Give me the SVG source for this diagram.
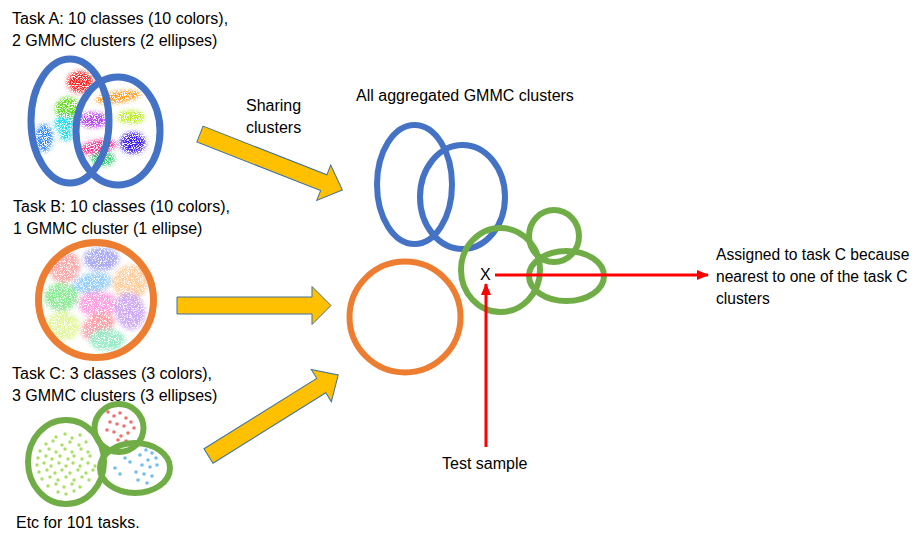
<svg xmlns="http://www.w3.org/2000/svg" width="919" height="534" viewBox="0 0 919 534">
  <style>
    .t { font-family: "Liberation Sans", Arial, sans-serif; font-size: 16px; fill: #000; }
    .s { font-size: 15.6px; }
    .blue { fill: none; stroke: #4472C4; }
    .orange { fill: none; stroke: #ED7D31; }
    .green { fill: none; stroke: #70AD47; }
    .fat { fill: #FFC000; stroke: #41719C; stroke-width: 1; }
    .red { stroke: #FF0000; stroke-width: 3; fill: none; }
    .lime circle { fill: #9BD94A; opacity: 0.85; }
    .rdot circle { fill: #E8504A; opacity: 0.8; }
    .bdot circle { fill: #4FAEE8; opacity: 0.8; }
  </style>
  <defs>
    <!-- speckled point-cloud texture for the scatter plots -->
    <filter id="grain" filterUnits="userSpaceOnUse" x="0" y="40" width="200" height="330" color-interpolation-filters="sRGB">
      <feGaussianBlur in="SourceGraphic" stdDeviation="2" result="soft"/>
      <feTurbulence type="fractalNoise" baseFrequency="1.1" numOctaves="1" seed="7" result="noise"/>
      <feColorMatrix in="noise" type="matrix" values="0 0 0 0 0  0 0 0 0 0  0 0 0 0 0  9 0 0 0 -3.8" result="dots"/>
      <feComposite in="soft" in2="dots" operator="in"/>
    </filter>
    <filter id="grainDense" filterUnits="userSpaceOnUse" x="0" y="200" width="200" height="200" color-interpolation-filters="sRGB">
      <feGaussianBlur in="SourceGraphic" stdDeviation="2.2" result="soft"/>
      <feTurbulence type="fractalNoise" baseFrequency="1.3" numOctaves="1" seed="11" result="noise"/>
      <feColorMatrix in="noise" type="matrix" values="0 0 0 0 0  0 0 0 0 0  0 0 0 0 0  8 0 0 0 -2.9" result="dots"/>
      <feComposite in="soft" in2="dots" operator="in"/>
    </filter>
    <clipPath id="clipB"><circle cx="96" cy="300" r="56"/></clipPath>
    <marker id="redHead" viewBox="0 0 12 10" refX="11" refY="5" markerWidth="12" markerHeight="10" markerUnits="userSpaceOnUse" orient="auto">
      <path d="M0,0 L12,5 L0,10 Z" fill="#FF0000"/>
    </marker>
  </defs>

  <rect width="919" height="534" fill="#FFFFFF"/>

  <!-- Task A: ten classes, two clusters -->
  <g id="taskA">
    <text class="t" x="12" y="24">Task A: 10 classes (10 colors),</text>
    <text class="t" x="12" y="46">2 GMMC clusters (2 ellipses)</text>
    <g filter="url(#grain)">
      <ellipse cx="80" cy="82" rx="13" ry="11" fill="#FF2222"/>
      <ellipse cx="118" cy="97" rx="23" ry="6" fill="#FF9A1A" transform="rotate(-8 118 97)"/>
      <ellipse cx="68" cy="109" rx="13" ry="12" fill="#66DD22"/>
      <ellipse cx="64" cy="124" rx="10" ry="9" fill="#22DDEE"/>
      <ellipse cx="66" cy="136" rx="7" ry="5" fill="#22DDEE"/>
      <ellipse cx="93" cy="120" rx="15" ry="8" fill="#BB44EE"/>
      <ellipse cx="131" cy="117" rx="14" ry="7" fill="#BBEE22"/>
      <ellipse cx="44" cy="138" rx="9" ry="14" fill="#3388FF"/>
      <ellipse cx="98" cy="147" rx="19" ry="7" fill="#FF3399" transform="rotate(-10 98 147)"/>
      <ellipse cx="133" cy="143" rx="13" ry="11" fill="#4422EE"/>
      <ellipse cx="103" cy="159" rx="12" ry="7" fill="#22CC66"/>
    </g>
    <ellipse class="blue" cx="70" cy="121" rx="39" ry="62" stroke-width="7"/>
    <ellipse class="blue" cx="118" cy="131" rx="42" ry="54" stroke-width="7"/>
  </g>

  <!-- Task B: ten classes, one cluster -->
  <g id="taskB">
    <text class="t" x="13" y="212">Task B: 10 classes (10 colors),</text>
    <text class="t" x="13" y="234">1 GMMC cluster (1 ellipse)</text>
    <g clip-path="url(#clipB)">
      <g filter="url(#grainDense)" opacity="0.55">
        <ellipse cx="64" cy="266" rx="16" ry="17" fill="#FF6666"/>
        <ellipse cx="101" cy="259" rx="18" ry="12" fill="#6666EE"/>
        <ellipse cx="131" cy="282" rx="19" ry="17" fill="#FFAA55" transform="rotate(-20 131 282)"/>
        <ellipse cx="92" cy="283" rx="20" ry="10" fill="#44AAFF" transform="rotate(-10 92 283)"/>
        <ellipse cx="61" cy="297" rx="17" ry="14" fill="#33DD44"/>
        <ellipse cx="98" cy="304" rx="20" ry="13" fill="#FF55CC"/>
        <ellipse cx="130" cy="311" rx="15" ry="19" fill="#AA66EE" transform="rotate(-15 130 311)"/>
        <ellipse cx="62" cy="326" rx="18" ry="15" fill="#CCEE55"/>
        <ellipse cx="98" cy="326" rx="18" ry="12" fill="#FF5566" transform="rotate(-35 98 326)"/>
        <ellipse cx="107" cy="340" rx="18" ry="11" fill="#44DD99"/>
      </g>
    </g>
    <circle class="orange" cx="96" cy="300" r="57.5" stroke-width="7"/>
  </g>

  <!-- Task C: three classes, three clusters -->
  <g id="taskC">
    <text class="t" x="12" y="379">Task C: 3 classes (3 colors),</text>
    <text class="t" x="12" y="401">3 GMMC clusters (3 ellipses)</text>
    <g class="lime">
      <circle cx="56" cy="437" r="1.7"/><circle cx="65" cy="434" r="1.7"/><circle cx="72" cy="438" r="1.7"/><circle cx="80" cy="435" r="1.7"/>
      <circle cx="46" cy="444" r="1.7"/><circle cx="53" cy="441" r="1.7"/><circle cx="62" cy="445" r="1.7"/><circle cx="70" cy="442" r="1.7"/><circle cx="79" cy="445" r="1.7"/><circle cx="86" cy="442" r="1.7"/>
      <circle cx="40" cy="451" r="1.7"/><circle cx="49" cy="449" r="1.7"/><circle cx="56" cy="452" r="1.7"/><circle cx="65" cy="449" r="1.7"/><circle cx="72" cy="452" r="1.7"/><circle cx="81" cy="449" r="1.7"/><circle cx="88" cy="452" r="1.7"/>
      <circle cx="38" cy="458" r="1.7"/><circle cx="46" cy="456" r="1.7"/><circle cx="52" cy="459" r="1.7"/><circle cx="60" cy="456" r="1.7"/><circle cx="68" cy="459" r="1.7"/><circle cx="74" cy="456" r="1.7"/><circle cx="82" cy="459" r="1.7"/><circle cx="90" cy="456" r="1.7"/>
      <circle cx="37" cy="465" r="1.7"/><circle cx="44" cy="463" r="1.7"/><circle cx="51" cy="466" r="1.7"/><circle cx="59" cy="463" r="1.7"/><circle cx="66" cy="466" r="1.7"/><circle cx="73" cy="463" r="1.7"/><circle cx="80" cy="466" r="1.7"/><circle cx="88" cy="463" r="1.7"/><circle cx="95" cy="466" r="1.7"/>
      <circle cx="39" cy="472" r="1.7"/><circle cx="47" cy="470" r="1.7"/><circle cx="55" cy="473" r="1.7"/><circle cx="62" cy="470" r="1.7"/><circle cx="70" cy="473" r="1.7"/><circle cx="78" cy="470" r="1.7"/><circle cx="86" cy="473" r="1.7"/><circle cx="93" cy="470" r="1.7"/>
      <circle cx="42" cy="479" r="1.7"/><circle cx="50" cy="477" r="1.7"/><circle cx="58" cy="480" r="1.7"/><circle cx="66" cy="477" r="1.7"/><circle cx="74" cy="480" r="1.7"/><circle cx="82" cy="477" r="1.7"/><circle cx="89" cy="480" r="1.7"/>
      <circle cx="48" cy="486" r="1.7"/><circle cx="56" cy="484" r="1.7"/><circle cx="64" cy="487" r="1.7"/><circle cx="72" cy="484" r="1.7"/><circle cx="80" cy="487" r="1.7"/>
      <circle cx="58" cy="492" r="1.7"/><circle cx="66" cy="494" r="1.7"/><circle cx="74" cy="491" r="1.7"/>
    </g>
    <g class="rdot">
      <circle cx="108" cy="412" r="1.8"/><circle cx="114" cy="416" r="1.8"/><circle cx="120" cy="413" r="1.8"/><circle cx="126" cy="418" r="1.8"/>
      <circle cx="110" cy="422" r="1.8"/><circle cx="117" cy="424" r="1.8"/><circle cx="124" cy="426" r="1.8"/><circle cx="131" cy="422" r="1.8"/>
      <circle cx="107" cy="430" r="1.8"/><circle cx="114" cy="432" r="1.8"/><circle cx="121" cy="436" r="1.8"/><circle cx="128" cy="433" r="1.8"/><circle cx="134" cy="428" r="1.8"/>
      <circle cx="118" cy="440" r="1.8"/><circle cx="126" cy="441" r="1.8"/>
    </g>
    <g class="bdot">
      <circle cx="115" cy="468" r="1.8"/><circle cx="120" cy="474" r="1.8"/><circle cx="140" cy="455" r="1.8"/><circle cx="146" cy="450" r="1.8"/>
      <circle cx="152" cy="453" r="1.8"/><circle cx="156" cy="458" r="1.8"/><circle cx="148" cy="460" r="1.8"/><circle cx="142" cy="465" r="1.8"/>
      <circle cx="150" cy="467" r="1.8"/><circle cx="157" cy="465" r="1.8"/><circle cx="136" cy="472" r="1.8"/><circle cx="144" cy="474" r="1.8"/>
      <circle cx="152" cy="476" r="1.8"/><circle cx="138" cy="480" r="1.8"/><circle cx="147" cy="483" r="1.8"/><circle cx="130" cy="462" r="1.8"/>
      <circle cx="160" cy="452" r="1.8"/><circle cx="125" cy="458" r="1.8"/>
    </g>
    <ellipse class="green" cx="66" cy="462" rx="38" ry="42" stroke-width="6"/>
    <ellipse class="green" cx="119" cy="428" rx="24.5" ry="24" stroke-width="6"/>
    <ellipse class="green" cx="135" cy="468" rx="35" ry="25" stroke-width="6"/>
    <text class="t" x="16" y="528">Etc for 101 tasks.</text>
  </g>

  <!-- Aggregated cluster set -->
  <g id="aggregated">
    <text class="t" x="356" y="101">All aggregated GMMC clusters</text>
    <g id="agg-taskA">
      <ellipse class="blue" cx="414.5" cy="184.5" rx="37.5" ry="59.5" stroke-width="6"/>
      <ellipse class="blue" cx="462.5" cy="197" rx="42.5" ry="52" stroke-width="6"/>
    </g>
    <g id="agg-taskB">
      <circle class="orange" cx="405" cy="317" r="55.5" stroke-width="6"/>
    </g>
    <g id="agg-taskC">
      <ellipse class="green" cx="500.5" cy="270" rx="39.5" ry="42" stroke-width="6"/>
      <ellipse class="green" cx="554" cy="236" rx="25" ry="26" stroke-width="6"/>
      <ellipse class="green" cx="566.5" cy="276" rx="37.5" ry="25" stroke-width="6"/>
    </g>
  </g>

  <!-- Test sample marker -->
  <g id="sample">
    <text class="t" x="480" y="280">X</text>
  </g>
  <g id="test-label">
    <text class="t" x="442" y="469">Test sample</text>
  </g>
  <g id="result-label">
    <text class="t s" x="716" y="260">Assigned to task C because</text>
    <text class="t s" x="716" y="282">nearest to one of the task C</text>
    <text class="t s" x="716" y="304">clusters</text>
  </g>
  <g id="sharing-label">
    <text class="t" x="246" y="111">Sharing</text>
    <text class="t" x="246" y="133">clusters</text>
  </g>

  <!-- Connectors -->
  <g id="connectors">
    <polygon class="fat" transform="translate(200 134) rotate(21.5)" points="0,-8.5 133,-8.5 133,-19 153,0 133,19 133,8.5 0,8.5"/>
    <polygon class="fat" transform="translate(177 305.5)" points="0,-8.5 135,-8.5 135,-19 154,0 135,19 135,8.5 0,8.5"/>
    <polygon class="fat" transform="translate(208.5 456) rotate(-32)" points="0,-8.5 133,-8.5 133,-19 153,0 133,19 133,8.5 0,8.5"/>
    <line class="red" x1="495" y1="275" x2="708" y2="275" marker-end="url(#redHead)"/>
    <line class="red" x1="486" y1="447" x2="486" y2="284" marker-end="url(#redHead)"/>
  </g>
</svg>
